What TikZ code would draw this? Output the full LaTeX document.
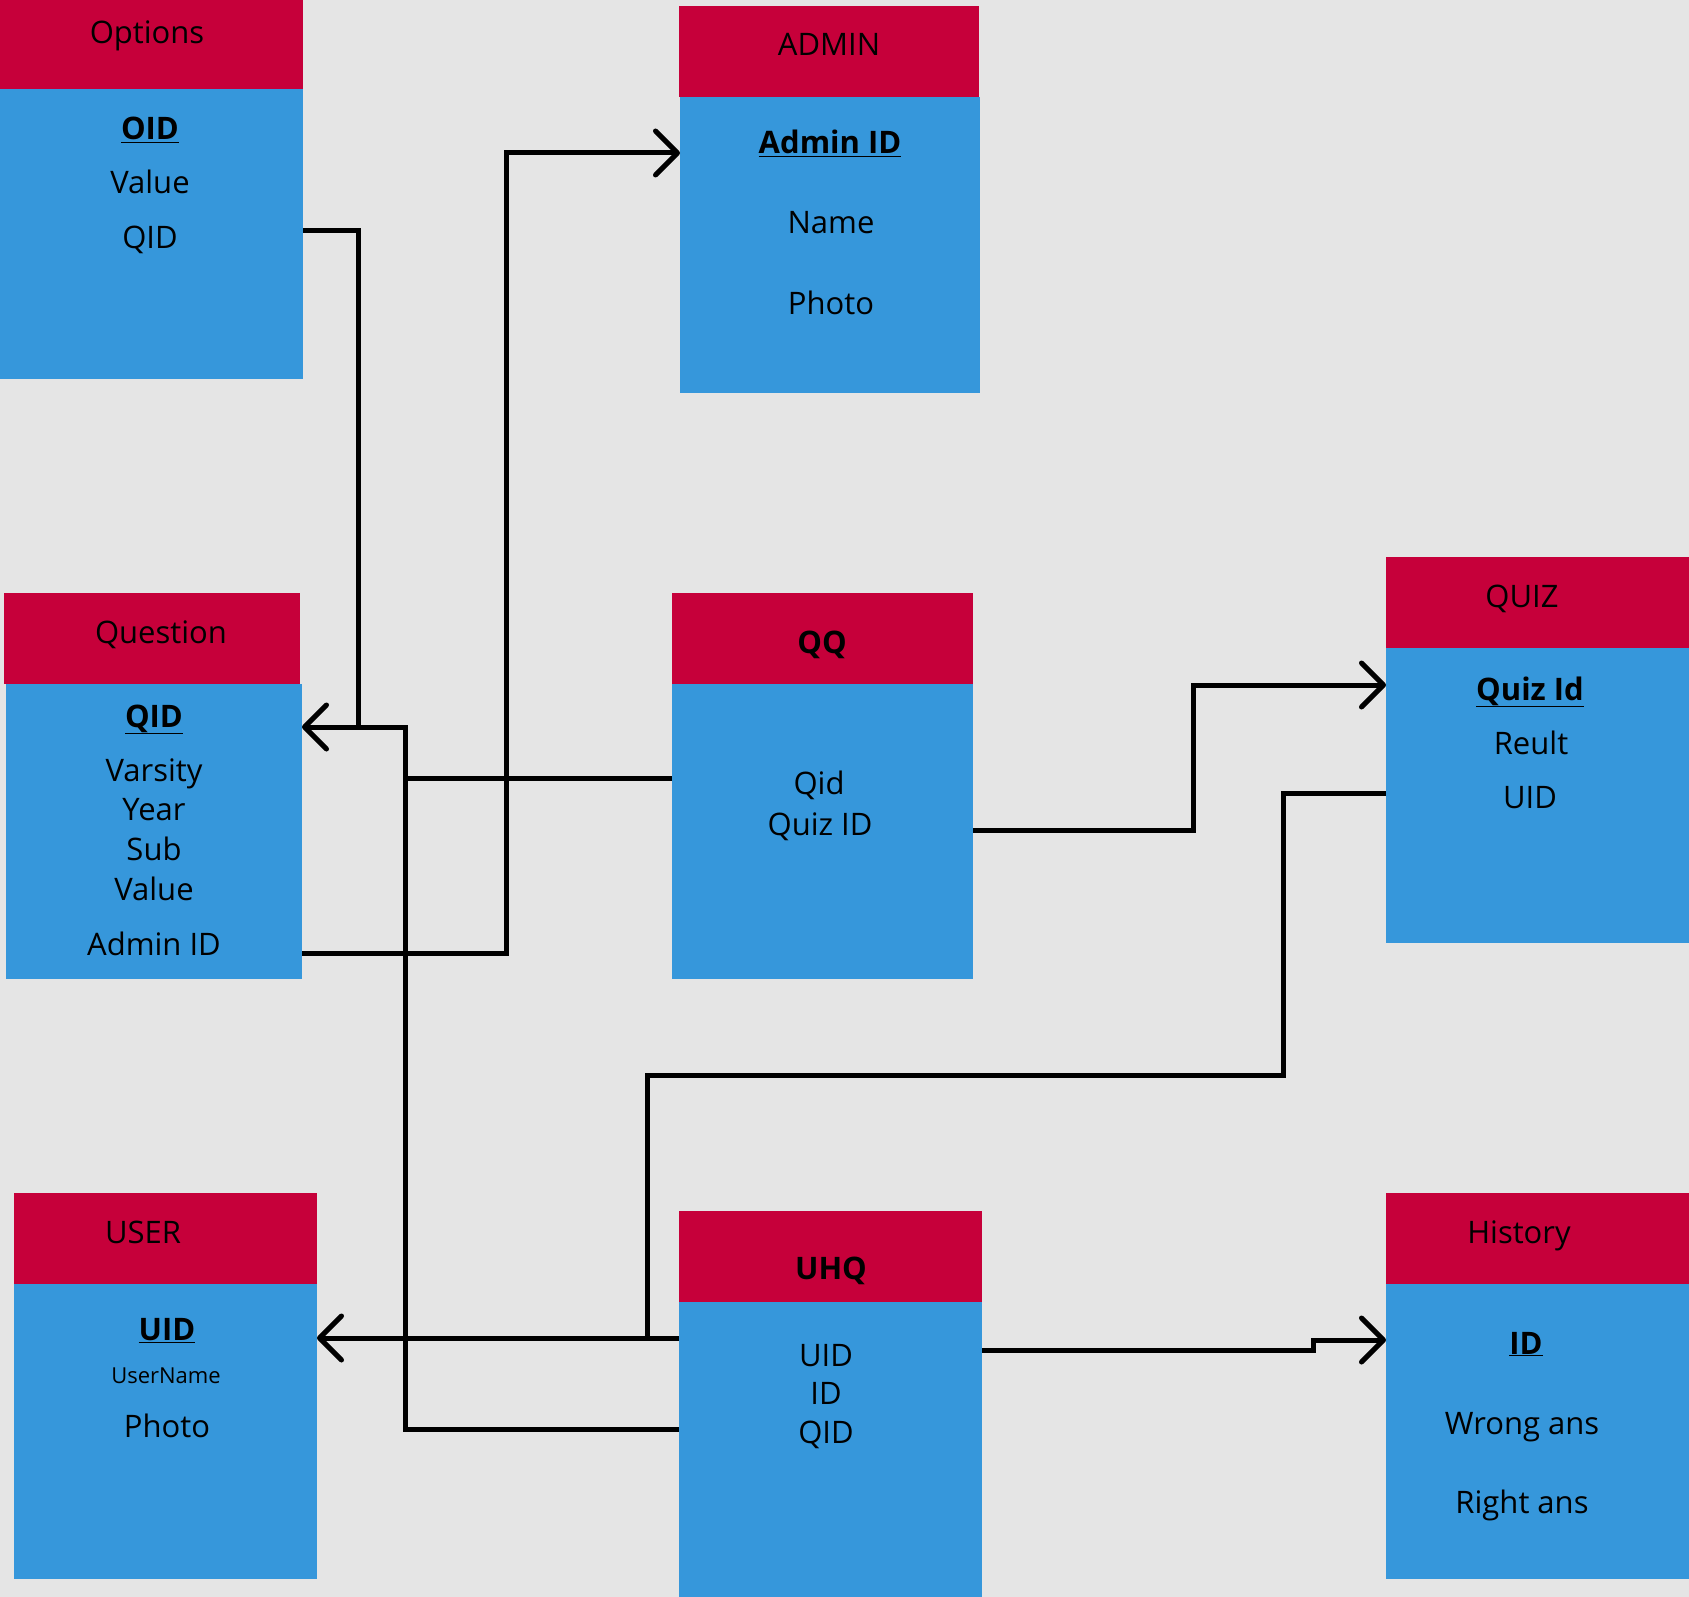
\documentclass[tikz,border=0pt]{standalone}
\usepackage{fontspec}
\setmainfont{Open Sans}
\usetikzlibrary{arrows.meta}
\definecolor{bg}{HTML}{E5E5E5}
\definecolor{hred}{HTML}{C6003A}
\definecolor{bblue}{HTML}{3697DB}
\begin{document}
\begin{tikzpicture}[x=1pt,y=-1pt,
  hdr/.style={fill=hred, anchor=north west, inner sep=0pt, outer sep=0pt},
  bod/.style={fill=bblue, anchor=north west, inner sep=0pt, outer sep=0pt},
  txt/.style={anchor=base, inner sep=0pt, font=\fontsize{31}{36}\selectfont},
  keytxt/.style={anchor=base, inner sep=0pt, font=\fontsize{31}{36}\selectfont\bfseries},
  smalltxt/.style={anchor=base, inner sep=0pt, font=\fontsize{22}{26}\selectfont},
  conn/.style={draw=black, line width=5pt},
  arr/.style={-{Straight Barb[length=22pt,width=44pt,line cap=round,line join=round]}}
]
\useasboundingbox (0,0) rectangle (1689,1597);
\fill[bg] (0,0) rectangle (1689,1597);

% ---------- boxes ----------
\node[hdr, minimum width=303pt, minimum height=89pt] (optH) at (0,0) {};
\node[bod, minimum width=303pt, minimum height=290pt] (optB) at (0,89) {};
\node[hdr, minimum width=300pt, minimum height=91pt] (admH) at (679,6) {};
\node[bod, minimum width=300pt, minimum height=296pt] (admB) at (680,97) {};
\node[hdr, minimum width=296pt, minimum height=91pt] (qH) at (4,593) {};
\node[bod, minimum width=296pt, minimum height=295pt] (qB) at (6,684) {};
\node[hdr, minimum width=301pt, minimum height=91pt] (qqH) at (672,593) {};
\node[bod, minimum width=301pt, minimum height=295pt] (qqB) at (672,684) {};
\node[hdr, minimum width=303pt, minimum height=91pt] (quizH) at (1386,557) {};
\node[bod, minimum width=303pt, minimum height=295pt] (quizB) at (1386,648) {};
\node[hdr, minimum width=303pt, minimum height=91pt] (userH) at (14,1193) {};
\node[bod, minimum width=303pt, minimum height=295pt] (userB) at (14,1284) {};
\node[hdr, minimum width=303pt, minimum height=91pt] (uhqH) at (679,1211) {};
\node[bod, minimum width=303pt, minimum height=295pt] (uhqB) at (679,1302) {};
\node[hdr, minimum width=303pt, minimum height=91pt] (histH) at (1386,1193) {};
\node[bod, minimum width=303pt, minimum height=295pt] (histB) at (1386,1284) {};

% ---------- texts ----------
\node[txt] (tOpt) at (147,44) {Options};
\node[keytxt] (tOptOID) at (150,140) {\underline{OID}};
\node[txt] (tOptVal) at (150,194) {Value};
\node[txt] (tOptQID) at (150,249) {QID};

\node[txt] (tAdm) at (829,56) {ADMIN};
\node[keytxt] (tAdmID) at (830,154) {\underline{Admin ID}};
\node[txt] (tAdmName) at (831,234) {Name};
\node[txt] (tAdmPhoto) at (831,314) {Photo};

\node[txt] (tQ) at (161,643) {Question};
\node[keytxt] (tQQID) at (154,727) {\underline{QID}};
\node[txt] (tQVar) at (154,781) {Varsity};
\node[txt] (tQYear) at (154,820) {Year};
\node[txt] (tQSub) at (154,860) {Sub};
\node[txt] (tQVal) at (154,900) {Value};
\node[txt] (tQAdm) at (154,955) {Admin ID};

\node[keytxt] (tQQ) at (822,653) {QQ};
\node[txt] (tQQQid) at (819,794) {Qid};
\node[txt] (tQQQuiz) at (820,835) {Quiz ID};

\node[txt] (tQuiz) at (1522,607) {QUIZ};
\node[keytxt] (tQuizID) at (1530,700) {\underline{Quiz Id}};
\node[txt] (tQuizRes) at (1531,754) {Reult};
\node[txt] (tQuizUID) at (1530,808) {UID};

\node[txt] (tUser) at (143,1243) {USER};
\node[keytxt] (tUserUID) at (167,1340) {\underline{UID}};
\node[smalltxt] (tUserName) at (166,1383) {UserName};
\node[txt] (tUserPhoto) at (167,1437) {Photo};

\node[keytxt] (tUHQ) at (831,1279) {UHQ};
\node[txt] (tUHQUID) at (826,1366) {UID};
\node[txt] (tUHQID) at (826,1404) {ID};
\node[txt] (tUHQQID) at (826,1443) {QID};

\node[txt] (tHist) at (1519,1243) {History};
\node[keytxt] (tHistID) at (1526,1354) {\underline{ID}};
\node[txt] (tHistW) at (1522,1434) {Wrong ans};
\node[txt] (tHistR) at (1522,1513) {Right ans};

% ---------- connector bend points ----------
\coordinate (p231) at (358,231);
\coordinate (p727) at (358,727);
\coordinate (c727) at (405,727);
\coordinate (c778) at (405,778);
\coordinate (c1429) at (405,1429);
\coordinate (a953) at (506,953);
\coordinate (a153) at (506,153);
\coordinate (b830) at (1193,830);
\coordinate (b685) at (1193,685);
\coordinate (d793) at (1283,793);
\coordinate (d1075) at (1283,1075);
\coordinate (e1075) at (647,1075);
\coordinate (e1338) at (647,1338);
\coordinate (f1350) at (1313,1350);
\coordinate (f1340) at (1313,1340);

% ---------- connectors ----------
% Options.QID -> Question.QID
\draw[conn] (optB.east |- p231) -- (p231) -- (p727);
% UHQ.QID -> Question.QID
\draw[conn, arr] (uhqB.west |- c1429) -- (c1429) -- (c727) -- (qB.east |- c727);
% QQ.Qid joins
\draw[conn] (qqB.west |- c778) -- (c778);
% Question.AdminID -> ADMIN
\draw[conn, arr] (qB.east |- a953) -- (a953) -- (a153) -- (admB.west |- a153);
% QQ.QuizID -> QUIZ
\draw[conn, arr] (qqB.east |- b830) -- (b830) -- (b685) -- (quizB.west |- b685);
% QUIZ.UID -> joins UHQ-USER line
\draw[conn] (quizB.west |- d793) -- (d793) -- (d1075) -- (e1075) -- (e1338);
% UHQ.UID -> USER
\draw[conn, arr] (uhqB.west |- e1338) -- (userB.east |- e1338);
% UHQ -> History
\draw[conn, arr] (uhqB.east |- f1350) -- (f1350) -- (f1340) -- (histB.west |- f1340);
\end{tikzpicture}
\end{document}
